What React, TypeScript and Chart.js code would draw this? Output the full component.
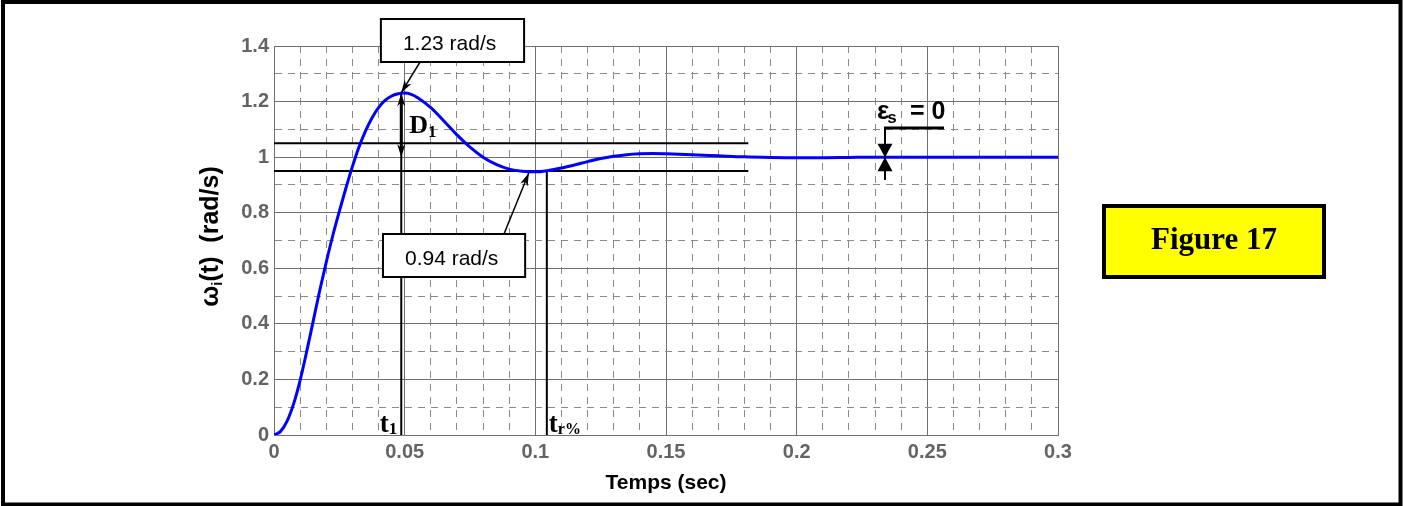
import React, { useEffect, useRef } from "react";
import { Chart, registerables } from "chart.js";

Chart.register(...registerables);

// ---------------- data ----------------
const timeSec = [
  0, 0.0025, 0.005, 0.0075, 0.01, 0.0125, 0.015, 0.0175, 0.02, 0.0225, 0.025,
  0.0275, 0.03, 0.0325, 0.035, 0.0375, 0.04, 0.0425, 0.045, 0.0475, 0.05,
  0.0525, 0.055, 0.06, 0.065, 0.07, 0.075, 0.08, 0.085, 0.09, 0.095, 0.1,
  0.105, 0.11, 0.115, 0.12, 0.125, 0.13, 0.135, 0.14, 0.145, 0.15, 0.16, 0.17,
  0.18, 0.19, 0.2, 0.21, 0.22, 0.23, 0.25, 0.3,
];
const omegaRadS = [
  0, 0.013, 0.05, 0.112, 0.197, 0.3, 0.41, 0.52, 0.622, 0.718, 0.805, 0.888,
  0.966, 1.036, 1.094, 1.141, 1.178, 1.204, 1.22, 1.228, 1.231, 1.226, 1.214,
  1.178, 1.13, 1.08, 1.036, 1.0, 0.974, 0.957, 0.949, 0.947, 0.952, 0.961,
  0.972, 0.984, 0.995, 1.003, 1.009, 1.012, 1.013, 1.012, 1.009, 1.005, 1.001,
  0.999, 0.998, 0.998, 0.999, 1.0, 1.0, 1.0,
];

const xTickValues = [0, 0.05, 0.1, 0.15, 0.2, 0.25, 0.3];
const xTickLabels = ["0", "0.05", "0.1", "0.15", "0.2", "0.25", "0.3"];
const yTickValues = [0, 0.2, 0.4, 0.6, 0.8, 1, 1.2, 1.4];
const yTickLabels = ["0", "0.2", "0.4", "0.6", "0.8", "1", "1.2", "1.4"];

const bandLevels = [1.05, 0.95];
const bandEndTime = 0.1815;
const peakTime = 0.0487;
const peakValue = 1.23;
const undershootTime = 0.0975;
const undershootValue = 0.94;
const settlingTime = 0.1044;
const finalValue = 1;
const errorMarkerTime = 0.2338;

// ---------------- styles / layout ----------------
const SANS = "'Liberation Sans', Arial, Helvetica, sans-serif";
const SERIF = "'Liberation Serif', 'Times New Roman', Times, serif";
const TICK_GRAY = "#646464";
const MAJOR_GRID = "#707070";
const MINOR_GRID = "#8a8a8a";
const MINOR_DASH = [7, 6];

const isMultiple = (v: number, step: number) =>
  Math.abs(v / step - Math.round(v / step)) < 1e-6;

const labelFor = (v: number, values: number[], labels: string[]) => {
  const i = values.findIndex((t) => Math.abs(t - v) < 1e-9);
  return i >= 0 ? labels[i] : "";
};

function arrowHead(
  ctx: CanvasRenderingContext2D,
  tipX: number,
  tipY: number,
  fromX: number,
  fromY: number,
  len: number,
  half: number
) {
  const a = Math.atan2(tipY - fromY, tipX - fromX);
  const c = Math.cos(a);
  const s = Math.sin(a);
  ctx.beginPath();
  ctx.moveTo(tipX, tipY);
  ctx.lineTo(tipX - len * c + half * s, tipY - len * s - half * c);
  ctx.lineTo(tipX - len * 0.7 * c, tipY - len * 0.7 * s);
  ctx.lineTo(tipX - len * c - half * s, tipY - len * s + half * c);
  ctx.closePath();
  ctx.fill();
}

function line(ctx: CanvasRenderingContext2D, x1: number, y1: number, x2: number, y2: number) {
  ctx.beginPath();
  ctx.moveTo(x1, y1);
  ctx.lineTo(x2, y2);
  ctx.stroke();
}

function subText(
  ctx: CanvasRenderingContext2D,
  main: string,
  sub: string,
  x: number,
  y: number,
  family: string,
  size: number,
  subSize: number,
  dy: number,
  alignRight = false
) {
  ctx.font = `bold ${size}px ${family}`;
  const w1 = ctx.measureText(main).width;
  ctx.font = `bold ${subSize}px ${family}`;
  const w2 = ctx.measureText(sub).width;
  const x0 = alignRight ? x - w1 - w2 : x;
  ctx.font = `bold ${size}px ${family}`;
  ctx.fillText(main, x0, y);
  ctx.font = `bold ${subSize}px ${family}`;
  ctx.fillText(sub, x0 + w1, y + dy);
}

const annotationPlugin = {
  id: "figureAnnotations",
  afterDatasetsDraw(chart: any) {
    const ctx: CanvasRenderingContext2D = chart.ctx;
    const xs = chart.scales.x;
    const ys = chart.scales.y;
    const X = (t: number) => xs.getPixelForValue(t);
    const Y = (v: number) => ys.getPixelForValue(v);
    ctx.save();
    ctx.fillStyle = "#000";
    ctx.strokeStyle = "#000";
    ctx.textBaseline = "alphabetic";
    ctx.textAlign = "left";

    // D1 double arrow
    const px = X(peakTime);
    const pTop = Y(peakValue);
    const pBot = Y(finalValue);
    ctx.lineWidth = 3;
    line(ctx, px, pTop + 8, px, pBot - 8);
    arrowHead(ctx, px, pTop, px, pBot, 13, 4);
    arrowHead(ctx, px, pBot, px, pTop, 13, 4);
    subText(ctx, "D", "1", px + 8, Y(1.087), SERIF, 26, 17, 4);

    // t1 and tr% labels
    subText(ctx, "t", "1", px - 4, Y(0) - 3, SERIF, 27, 17, 2, true);
    subText(ctx, "t", "r%", X(settlingTime) + 2, Y(0) - 3, SERIF, 27, 16, 2);

    // callouts
    const callout = (
      text: string,
      t0: number,
      t1: number,
      vTop: number,
      vBot: number,
      from: [number, number],
      tip: [number, number]
    ) => {
      ctx.lineWidth = 1.5;
      ctx.strokeStyle = "#000";
      line(ctx, X(from[0]), Y(from[1]), X(tip[0]), Y(tip[1]));
      arrowHead(ctx, X(tip[0]), Y(tip[1]), X(from[0]), Y(from[1]), 13, 4);
      const l = X(t0);
      const r = X(t1);
      const top = Y(vTop);
      const bot = Y(vBot);
      ctx.fillStyle = "#fff";
      ctx.fillRect(l, top, r - l, bot - top);
      ctx.lineWidth = 2;
      ctx.strokeRect(l, top, r - l, bot - top);
      ctx.fillStyle = "#000";
      ctx.font = `21px ${SANS}`;
      ctx.fillText(text, l + 22, top + 31);
    };
    callout(
      `${peakValue.toFixed(2)} rad/s`,
      0.0409,
      0.0957,
      1.4971,
      1.3424,
      [0.0559, 1.3424],
      [peakTime, peakValue + 0.002]
    );
    callout(
      `${undershootValue.toFixed(2)} rad/s`,
      0.0417,
      0.0961,
      0.7234,
      0.5686,
      [0.088, 0.7234],
      [undershootTime, 0.943]
    );

    // steady-state error marker
    const ex = X(errorMarkerTime);
    const barY = Y(1.105);
    const one = Y(finalValue);
    ctx.lineWidth = 3;
    line(ctx, ex - 1, barY, X(0.2564), barY);
    ctx.lineWidth = 2;
    line(ctx, ex, barY, ex, Y(0.918));
    ctx.beginPath();
    ctx.moveTo(ex, one);
    ctx.lineTo(ex - 7.5, one - 13.5);
    ctx.lineTo(ex + 7.5, one - 13.5);
    ctx.closePath();
    ctx.fill();
    ctx.beginPath();
    ctx.moveTo(ex, one);
    ctx.lineTo(ex - 7.5, one + 14);
    ctx.lineTo(ex + 7.5, one + 14);
    ctx.closePath();
    ctx.fill();
    ctx.font = `bold 26px ${SANS}`;
    ctx.fillText("\u03b5", ex - 8, barY - 9);
    const we = ctx.measureText("\u03b5").width;
    ctx.font = `bold 17px ${SANS}`;
    ctx.fillText("s", ex - 8 + we - 2, barY - 5);
    ctx.font = `bold 25px ${SANS}`;
    ctx.fillText("= 0", ex + 25, barY - 9);
    ctx.restore();
  },
  afterDraw(chart: any) {
    const ctx: CanvasRenderingContext2D = chart.ctx;
    const area = chart.chartArea;
    ctx.save();
    // outer frame
    ctx.strokeStyle = "#000";
    ctx.lineWidth = 4;
    ctx.strokeRect(3, 2, 1397.5, 502.5);

    // Figure 17 box
    ctx.fillStyle = "#ffff00";
    ctx.fillRect(1102, 204, 224, 75);
    ctx.lineWidth = 4;
    ctx.strokeRect(1104, 206, 220, 71);
    ctx.fillStyle = "#000";
    ctx.font = `bold 31px ${SERIF}`;
    ctx.textAlign = "center";
    ctx.textBaseline = "alphabetic";
    ctx.fillText("Figure 17", 1214, 249);

    // y-axis title with subscript
    ctx.textAlign = "left";
    ctx.translate(210, (area.top + area.bottom) / 2 - 4);
    ctx.rotate(-Math.PI / 2);
    const big = `bold 25px ${SANS}`;
    const small = `bold 15px ${SANS}`;
    const parts: [string, string, number][] = [
      ["\u03c9", big, 0],
      ["i", small, 4],
      ["(t)  (rad/s)", big, 0],
    ];
    let total = 0;
    const widths = parts.map(([t, f]) => {
      ctx.font = f;
      const w = ctx.measureText(t).width;
      total += w;
      return w;
    });
    let x = -total / 2;
    parts.forEach(([t, f, dy], i) => {
      ctx.font = f;
      ctx.fillText(t, x, 8 + dy);
      x += widths[i];
    });
    ctx.restore();
  },
};

export default function App() {
  const ref = useRef<HTMLCanvasElement>(null);
  useEffect(() => {
    document.body.style.margin = "0";
    const canvas = ref.current;
    if (!canvas) return;

    const black = (pts: { x: number; y: number }[]) => ({
      data: pts,
      borderColor: "#000000",
      borderWidth: 2,
      pointRadius: 0,
      fill: false,
      tension: 0,
      order: 1,
    });

    const chart = new Chart(canvas, {
      type: "line",
      data: {
        datasets: [
          {
            data: timeSec.map((t, i) => ({ x: t, y: omegaRadS[i] })),
            borderColor: "#0000ff",
            borderWidth: 3,
            pointRadius: 0,
            fill: false,
            cubicInterpolationMode: "monotone",
            order: 0,
          } as any,
          black([
            { x: 0, y: bandLevels[0] },
            { x: bandEndTime, y: bandLevels[0] },
          ]),
          black([
            { x: 0, y: bandLevels[1] },
            { x: bandEndTime, y: bandLevels[1] },
          ]),
          black([
            { x: peakTime, y: 0 },
            { x: peakTime, y: peakValue },
          ]),
          black([
            { x: settlingTime, y: 0 },
            { x: settlingTime, y: bandLevels[1] },
          ]),
        ],
      },
      options: {
        animation: false,
        responsive: false,
        devicePixelRatio: 1,
        events: [],
        layout: { padding: { left: 0, top: 46, right: 345, bottom: 0 } },
        plugins: {
          legend: { display: false },
          tooltip: { enabled: false },
          title: { display: false },
        },
        scales: {
          x: {
            type: "linear",
            min: 0,
            max: 0.3,
            afterFit: (s: any) => {
              s.height = 71;
            },
            ticks: {
              stepSize: 0.01,
              autoSkip: false,
              maxRotation: 0,
              padding: 5,
              color: TICK_GRAY,
              font: { family: SANS, size: 20, weight: "bold" },
              callback: (v: any) => labelFor(Number(v), xTickValues, xTickLabels),
            },
            grid: {
              drawTicks: false,
              lineWidth: 1,
              color: (c: any) => (isMultiple(c.tick?.value ?? 0, 0.05) ? MAJOR_GRID : MINOR_GRID),
              borderDash: (c: any) => (isMultiple(c.tick?.value ?? 0, 0.05) ? [] : MINOR_DASH),
            } as any,
            border: {
              display: true,
              color: MAJOR_GRID,
              width: 1,
              dash: (c: any) => (c.tick && !isMultiple(c.tick.value, 0.05) ? MINOR_DASH : []),
            } as any,
            title: {
              display: true,
              text: "Temps (sec)",
              color: "#000",
              font: { family: SANS, size: 21, weight: "bold" },
              padding: { top: 0, bottom: 10 },
            },
          },
          y: {
            type: "linear",
            min: 0,
            max: 1.4,
            afterFit: (s: any) => {
              s.width = 274;
            },
            ticks: {
              stepSize: 0.1,
              autoSkip: false,
              padding: 5,
              color: TICK_GRAY,
              font: { family: SANS, size: 20, weight: "bold" },
              callback: (v: any) => labelFor(Number(v), yTickValues, yTickLabels),
            },
            grid: {
              drawTicks: false,
              lineWidth: 1,
              color: (c: any) => (isMultiple(c.tick?.value ?? 0, 0.2) ? MAJOR_GRID : MINOR_GRID),
              borderDash: (c: any) => (isMultiple(c.tick?.value ?? 0, 0.2) ? [] : MINOR_DASH),
            } as any,
            border: {
              display: true,
              color: MAJOR_GRID,
              width: 1,
              dash: (c: any) => (c.tick && !isMultiple(c.tick.value, 0.2) ? MINOR_DASH : []),
            } as any,
            title: { display: false },
          },
        },
      } as any,
      plugins: [annotationPlugin],
    });
    return () => chart.destroy();
  }, []);

  return (
    <div style={{ width: 1403, height: 506, position: "relative", background: "#fff" }}>
      <canvas ref={ref} width={1403} height={506} style={{ display: "block", width: 1403, height: 506 }} />
    </div>
  );
}
